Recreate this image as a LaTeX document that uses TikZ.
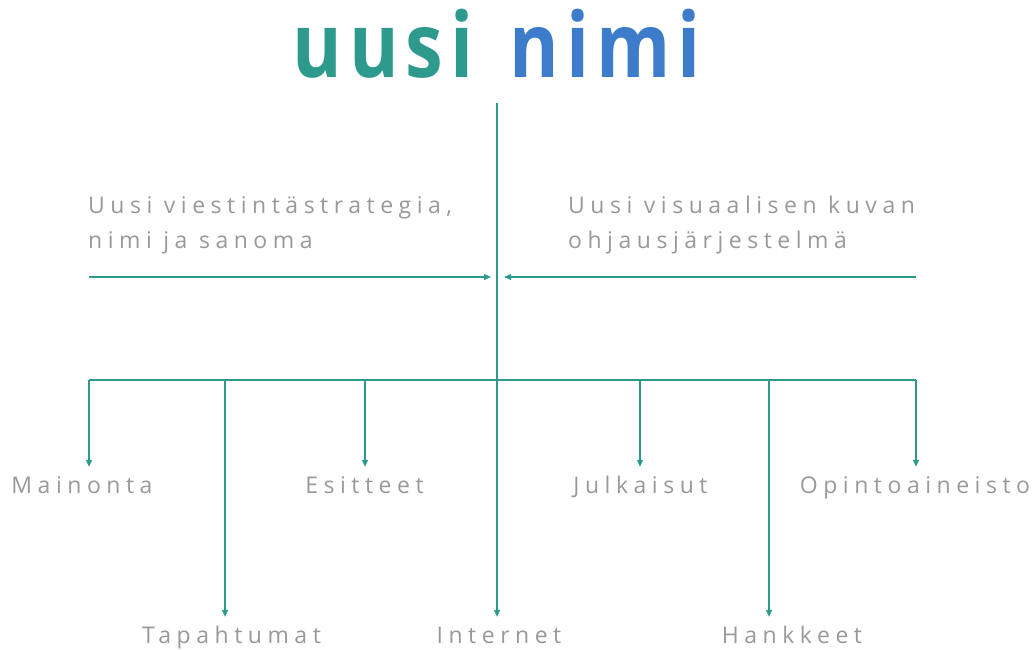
\documentclass[tikz,border=0pt]{standalone}
\usepackage{fontspec}
\setmainfont{Open Sans}
\newfontfamily\labelfont{Open Sans}[LetterSpace=24]
\newfontfamily\titlefont{Open Sans}[LetterSpace=8, FakeStretch=0.84]
\usetikzlibrary{arrows.meta}

\definecolor{flowline}{HTML}{2E9A8E}
\definecolor{titleteal}{HTML}{2E9A8E}
\definecolor{titleblue}{HTML}{3D7CCB}
\definecolor{labelgray}{HTML}{999999}

\tikzset{
  flow/.style={draw=flowline, line width=1.1pt},
  flowarrow/.style={flow, -{Triangle[length=7pt,width=6pt]}},
  label/.style={text=labelgray, font=\labelfont\fontsize{23}{28}\selectfont,
    inner xsep=0pt, inner ysep=10pt, text height=16pt, text depth=5pt, anchor=base},
  intro/.style={text=labelgray, font=\labelfont\fontsize{23}{28}\selectfont,
    inner sep=0pt, anchor=base west},
  title/.style={font=\titlefont\bfseries\fontsize{90}{100}\selectfont,
    inner sep=0pt, anchor=base west},
}

\begin{document}
\begin{tikzpicture}[x=1pt, y=1pt]
  \useasboundingbox (0,0) rectangle (1034,-649);

  % heading
  \node[title, text=titleteal] (uusi) at (292,-77) {uusi};
  \node[title, text=titleblue] (nimi) at (509,-77) {nimi};

  % introductory texts
  \node[intro] (leftA)  at (88,-213)  {Uusi viestintästrategia,};
  \node[intro] (leftB)  at (88,-248)  {nimi ja sanoma};
  \node[intro] (rightA) at (568,-213) {Uusi visuaalisen kuvan};
  \node[intro] (rightB) at (568,-248) {ohjausjärjestelmä};

  % outputs
  \node[label] (mainonta)   at (82,-493)  {Mainonta};
  \node[label] (esitteet)   at (364.5,-493) {Esitteet};
  \node[label] (julkaisut)  at (640.5,-493) {Julkaisut};
  \node[label] (opinto)     at (915,-493) {Opintoaineisto};
  \node[label] (tapahtumat) at (231.5,-643) {Tapahtumat};
  \node[label] (internet)   at (499,-643) {Internet};
  \node[label] (hankkeet)   at (792,-643) {Hankkeet};

  % stem and bar coordinates
  \coordinate (top) at (497,-103);
  \coordinate (inL) at (89,-277);
  \coordinate (inLend) at (491,-277);
  \coordinate (inR) at (916,-277);
  \coordinate (inRend) at (504,-277);
  \coordinate (b1) at (89,-380);
  \coordinate (b2) at (225,-380);
  \coordinate (b3) at (365,-380);
  \coordinate (b4) at (497,-380);
  \coordinate (b5) at (640,-380);
  \coordinate (b6) at (769,-380);
  \coordinate (b7) at (916,-380);

  % incoming arrows
  \draw[flowarrow] (inL) -- (inLend);
  \draw[flowarrow] (inR) -- (inRend);

  % main stem to Internet
  \draw[flowarrow] (top) -- (top |- internet.north);

  % distribution bar
  \draw[flow] (b1) -- (b7);
  \draw[flowarrow] (b1) -- (b1 |- mainonta.north);
  \draw[flowarrow] (b2) -- (b2 |- tapahtumat.north);
  \draw[flowarrow] (b3) -- (b3 |- esitteet.north);
  \draw[flowarrow] (b5) -- (b5 |- julkaisut.north);
  \draw[flowarrow] (b6) -- (b6 |- hankkeet.north);
  \draw[flowarrow] (b7) -- (b7 |- opinto.north);
\end{tikzpicture}
\end{document}
